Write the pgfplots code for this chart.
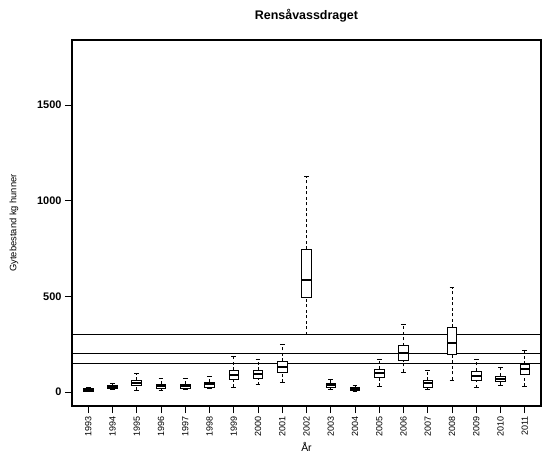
\documentclass[border=0pt]{standalone}
\usepackage{fontspec}
\setmainfont{Liberation Sans}
\usepackage{pgfplots}
\pgfplotsset{compat=1.18}
% box: position, min, q1, median, q3, max
\newcommand{\bx}[6]{%
  \pgfmathsetmacro\xl{#1-0.2}\pgfmathsetmacro\xr{#1+0.2}%
  \pgfmathsetmacro\cl{#1-0.1}\pgfmathsetmacro\cr{#1+0.1}%
  \addplot[black, line width=0.8bp, dash pattern=on 3bp off 2.5bp] coordinates {(#1,#5) (#1,#6)};
  \addplot[black, line width=0.8bp, dash pattern=on 3bp off 2.5bp] coordinates {(#1,#2) (#1,#3)};
  \addplot[black, line width=0.8bp] coordinates {(\cl,#6) (\cr,#6)};
  \addplot[black, line width=0.8bp] coordinates {(\cl,#2) (\cr,#2)};
  \addplot[draw=black, fill=white, line width=0.8bp] coordinates {(\xl,#3) (\xr,#3) (\xr,#5) (\xl,#5)} -- cycle;
  \addplot[black, line width=2bp] coordinates {(\xl,#4) (\xr,#4)};
}
\begin{document}
\begin{tikzpicture}
\useasboundingbox (0,0) rectangle (542bp,459bp);
\begin{axis}[
  at={(72bp,53bp)}, anchor=south west,
  scale only axis, width=469bp, height=366bp,
  xmin=0.33, xmax=19.67, ymin=-73, ymax=1840,
  axis line style={line width=1.3bp},
  tick pos=left, tick align=outside, major tick length=7bp,
  tick style={black, line width=0.9bp},
  xtick={1,...,19},
  xticklabels={1993,1994,1995,1996,1997,1998,1999,2000,2001,2002,2003,2004,2005,2006,2007,2008,2009,2010,2011},
  xticklabel style={rotate=90, anchor=east, font=\fontsize{9}{10}\selectfont},
  ytick={0,500,1000,1500},
  yticklabel style={font=\bfseries\fontsize{11}{12}\selectfont},
  /pgf/number format/assume math mode=true,
  /pgf/number format/1000 sep={},
  scaled y ticks=false,
  xlabel={År},
  ylabel={Gytebestand kg hunner},
  xlabel style={at={(axis description cs:0.5,-0.112)}, anchor=center, yshift=0pt, font=\fontsize{10.5}{11}\selectfont},
  ylabel style={at={(axis description cs:-0.124,0.5)}, anchor=center, yshift=0pt, font=\fontsize{9.4}{10}\selectfont},
  title={Rensåvassdraget},
  every axis title shift=0pt,
  title style={at={(axis description cs:0.5,1.066)}, anchor=center, yshift=0pt, font=\bfseries\fontsize{12.5}{13}\selectfont},
]
\addplot[black, line width=0.7bp] coordinates {(0.33,300) (19.67,300)};
\addplot[black, line width=0.7bp] coordinates {(0.33,200) (19.67,200)};
\addplot[black, line width=0.7bp] coordinates {(0.33,150) (19.67,150)};
\bx{1}{2}{5}{10}{17}{22}
\bx{2}{12}{18}{26}{34}{45}
\bx{3}{10}{35}{47}{61}{96}
\bx{4}{9}{19}{31}{42}{71}
\bx{5}{12}{18}{30}{42}{70}
\bx{6}{19}{24}{40}{52}{80}
\bx{7}{25}{64}{87}{113}{185}
\bx{8}{38}{70}{94}{113}{169}
\bx{9}{51}{103}{131}{160}{249}
\bx{10}{300}{493}{584}{746}{1125}
\bx{11}{14}{24}{37}{47}{64}
\bx{12}{4}{7}{16}{24}{37}
\bx{13}{30}{77}{99}{119}{172}
\bx{14}{105}{164}{206}{242}{352}
\bx{15}{14}{24}{49}{61}{113}
\bx{16}{63}{199}{258}{338}{545}
\bx{17}{23}{61}{85}{110}{172}
\bx{18}{37}{56}{70}{84}{127}
\bx{19}{30}{94}{119}{145}{216}
\end{axis}
\end{tikzpicture}
\end{document}
